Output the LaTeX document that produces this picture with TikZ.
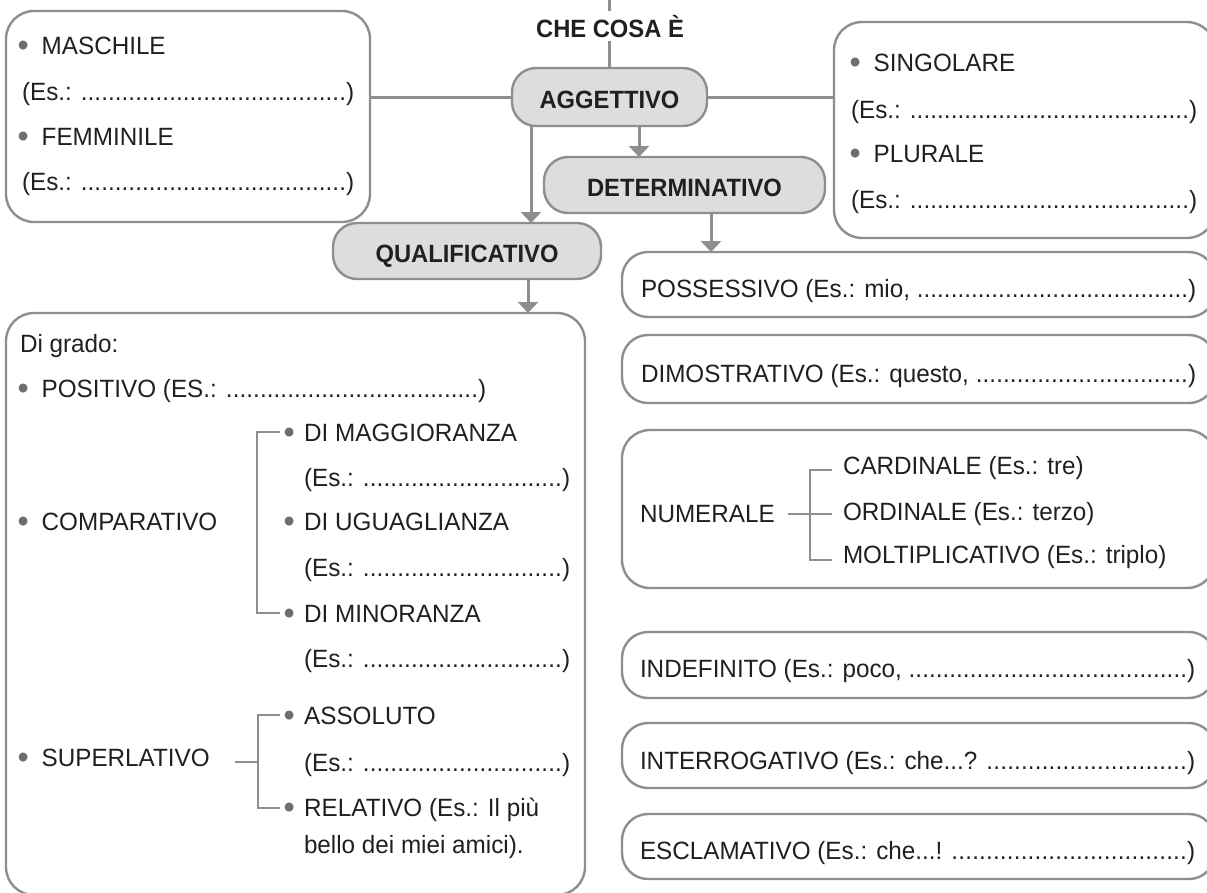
\documentclass[tikz,border=0pt]{standalone}
\usepackage{fontspec}
\setmainfont{Liberation Sans}[FakeStretch=0.97, BoldFeatures={FakeStretch=0.95}]
\usetikzlibrary{arrows.meta}
\definecolor{txt}{HTML}{231F20}
\definecolor{lnc}{HTML}{8D8E90}
\definecolor{pillc}{HTML}{DCDDDF}
\definecolor{bulc}{HTML}{6D6E71}
\newcommand\bul[1][13pt]{\raisebox{-2.5pt}{\fontsize{33}{30}\selectfont\textcolor{bulc}{•}}\hspace{#1}}
\newcommand\fillline[2]{\hbox to #1{#2\xleaders\hbox{.}\hfill)}}
\begin{document}
\begin{tikzpicture}[x=1pt,y=-1pt,
  every node/.style={inner sep=0pt, outer sep=0pt, text=txt, font=\fontsize{25}{30}\selectfont},
  frame/.style={draw=lnc, line width=2.4pt, rounded corners=28pt, fill=white},
  rframe/.style={draw=lnc, line width=2.4pt, rounded corners=26pt, fill=white},
  pillbox/.style={draw=lnc, line width=2.4pt, rounded corners=24pt, fill=pillc,
    font=\bfseries\fontsize{25}{30}\selectfont, text height=23pt, text depth=0pt},
  conn/.style={draw=lnc, line width=3pt},
  arr/.style={conn, -{Triangle[width=20pt,length=11pt]}},
  brk/.style={draw=lnc, line width=2.6pt},
  lbl/.style={anchor=base west}]
\useasboundingbox (0,0) rectangle (1207,892);
\clip (0,0) rectangle (1207,892);

% boxes
\node[frame, minimum width=364pt, minimum height=211pt] (genbox) at (188,116.5) {};
\node[frame, minimum width=381pt, minimum height=216pt] (nbox) at (1024.5,130) {};
\node[pillbox, minimum width=195pt, minimum height=58pt] (agg) at (609.5,97) {AGGETTIVO};
\node[pillbox, minimum width=281pt, minimum height=56pt] (det) at (684.5,185) {DETERMINATIVO};
\node[pillbox, minimum width=268pt, minimum height=56pt] (qual) at (467,251) {QUALIFICATIVO};
\node[frame, minimum width=579pt, minimum height=582pt] (grado) at (295.5,604) {};
\node[rframe, minimum width=593pt, minimum height=65pt] (poss) at (918.5,284.5) {};
\node[rframe, minimum width=593pt, minimum height=68pt] (dim) at (918.5,369) {};
\node[frame, minimum width=593pt, minimum height=158pt] (numer) at (918.5,509) {};
\node[rframe, minimum width=593pt, minimum height=66pt] (indef) at (918.5,665) {};
\node[rframe, minimum width=593pt, minimum height=65pt] (inter) at (918.5,755.5) {};
\node[rframe, minimum width=593pt, minimum height=65pt] (escl) at (918.5,846.5) {};

% top connector and title
\coordinate (top) at (609.5,0);
\draw[conn] (top) -- (agg.north);
\node[anchor=base, fill=white, inner xsep=2pt, inner ysep=4pt, font=\bfseries\fontsize{25}{30}\selectfont] (che) at (610,37) {CHE COSA È};

% connectors
\draw[conn] (agg.west) -- (agg.west -| genbox.east);
\draw[conn] (agg.east) -- (agg.east -| nbox.west);
\draw[arr] ([xshift=29.5pt]agg.south) -- ([xshift=29.5pt]agg.south |- det.north);
\draw[arr] ([xshift=-78.5pt]agg.south) -- ([xshift=-78.5pt]agg.south |- qual.north);
\draw[arr] ([xshift=61pt]qual.south) -- ([xshift=61pt]qual.south |- grado.north);
\draw[arr] ([xshift=26.5pt]det.south) -- ([xshift=26.5pt]det.south |- poss.north);

% gender box
\node[lbl] (masc) at (17.5,54) {\bul MASCHILE};
\node[lbl] (mascx) at (22,100) {\fillline{332pt}{(Es.: }};
\node[lbl] (femm) at (17.5,145) {\bul FEMMINILE};
\node[lbl] (femmx) at (22,190) {\fillline{332pt}{(Es.: }};

% number box
\node[lbl] (sing) at (849.5,71) {\bul SINGOLARE};
\node[lbl] (singx) at (851,118) {\fillline{346pt}{(Es.: }};
\node[lbl] (plur) at (849.5,162) {\bul PLURALE};
\node[lbl] (plurx) at (851,208) {\fillline{346pt}{(Es.: }};

% grado box
\node[lbl] (dig) at (20,352) {Di grado:};
\node[lbl] (pos) at (17.5,397) {\fillline{468.5pt}{\bul POSITIVO (ES.: }};
\node[lbl] (comp) at (17.5,530) {\bul COMPARATIVO};
\node[lbl] (sup) at (17.5,766) {\bul SUPERLATIVO};
\node[lbl] (magg) at (283.5,441) {\bul[9.5pt]DI MAGGIORANZA};
\node[lbl] (maggx) at (304,486) {\fillline{266pt}{(Es.: }};
\node[lbl] (ugu) at (283.5,530) {\bul[9.5pt]DI UGUAGLIANZA};
\node[lbl] (ugux) at (304,576) {\fillline{266pt}{(Es.: }};
\node[lbl] (mino) at (283.5,622) {\bul[9.5pt]DI MINORANZA};
\node[lbl] (minox) at (304,667) {\fillline{266pt}{(Es.: }};
\node[lbl] (ass) at (283.5,724) {\bul[9.5pt]ASSOLUTO};
\node[lbl] (assx) at (304,771) {\fillline{266pt}{(Es.: }};
\node[lbl] (rel) at (283.5,816) {\bul[9.5pt]RELATIVO (Es.: Il più};
\node[lbl] (rel2) at (304,853) {bello dei miei amici).};

\coordinate (cmp1) at (280,432);
\coordinate (cmp2) at (280,613);
\draw[brk] (cmp1) -- ++(-23,0) |- (cmp2);
\coordinate (sp1) at (280,715);
\coordinate (sp2) at (280,808);
\draw[brk] (sp1) -- ++(-22,0) |- (sp2);
\coordinate (spl) at (235,762);
\draw[brk] (spl) -- ++(23,0);

% determinativo boxes
\node[lbl] (posst) at (641,297) {\fillline{555pt}{POSSESSIVO (Es.: mio, }};
\node[lbl] (dimt) at (641,382) {\fillline{555pt}{DIMOSTRATIVO (Es.: questo, }};
\node[lbl] (numl) at (640,522) {NUMERALE};
\node[lbl] (card) at (843,474) {CARDINALE (Es.: tre)};
\node[lbl] (ord) at (843,520) {ORDINALE (Es.: terzo)};
\node[lbl] (molt) at (843,563) {MOLTIPLICATIVO (Es.: triplo)};
\node[lbl] (indt) at (640,677) {\fillline{555pt}{INDEFINITO (Es.: poco, }};
\node[lbl] (intt) at (640,769) {\fillline{555pt}{INTERROGATIVO (Es.: che...? }};
\node[lbl] (eslt) at (640,859) {\fillline{555pt}{ESCLAMATIVO (Es.: che...! }};

\coordinate (nb1) at (832,470);
\coordinate (nb3) at (832,560);
\coordinate (nm) at (788,514);
\coordinate (nb2) at (832,514);
\draw[brk] (nb1) -- ++(-22,0) |- (nb3);
\draw[brk] (nm) -- (nb2);
\end{tikzpicture}
\end{document}
